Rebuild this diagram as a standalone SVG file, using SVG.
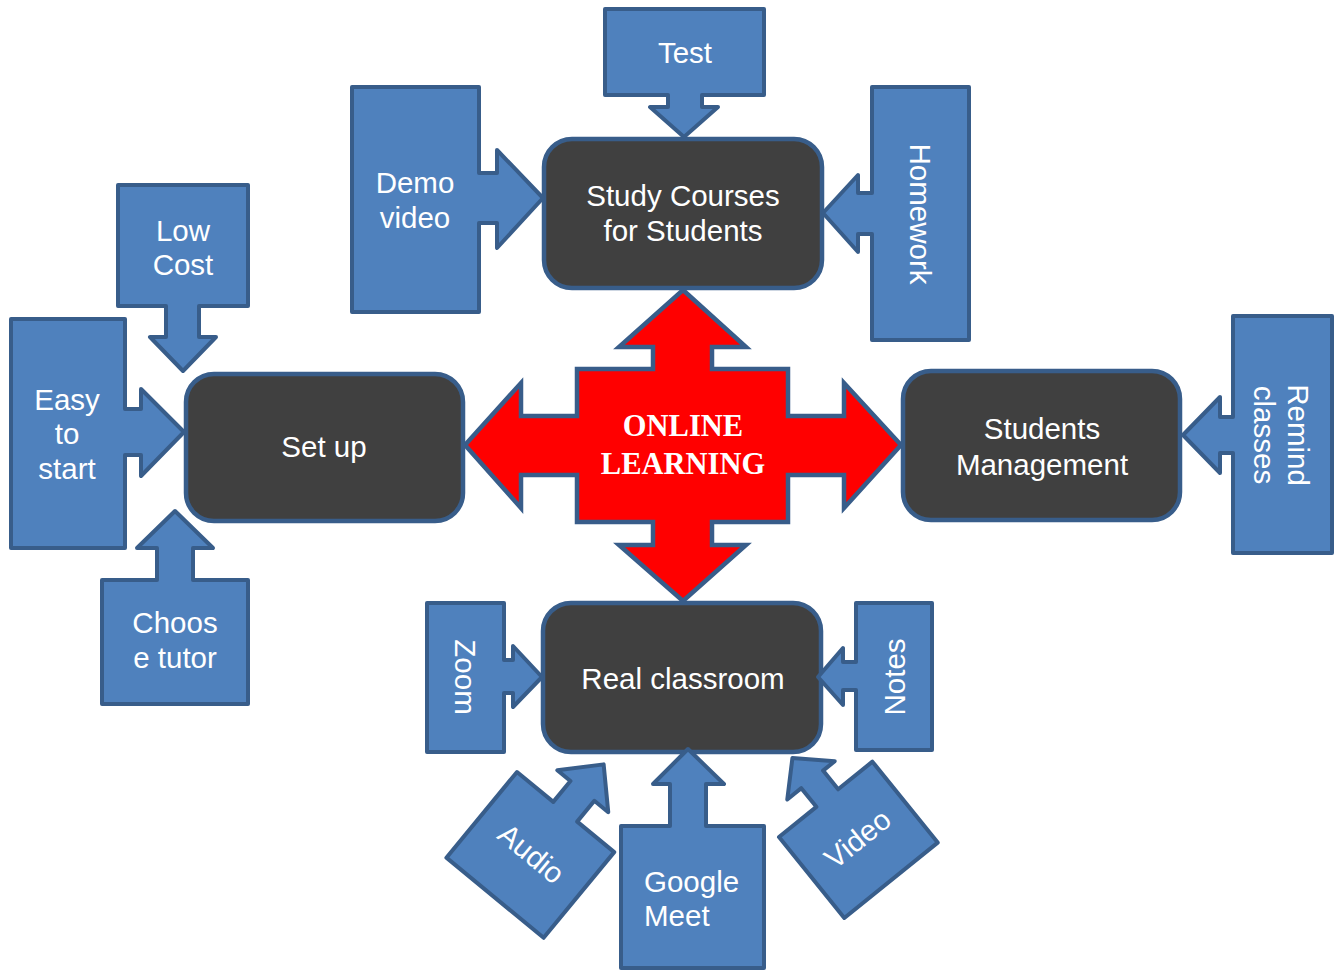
<svg xmlns="http://www.w3.org/2000/svg" width="1338" height="970" viewBox="0 0 1338 970">
<style>
.c{fill:#4f81bd;stroke:#385d8a;stroke-width:4;stroke-linejoin:round}
.b{fill:#404040;stroke:#385d8a;stroke-width:4.5}
.t{font-family:"Liberation Sans",Arial,sans-serif;font-size:29.5px;fill:#ffffff;text-anchor:middle}
.s{font-family:"Liberation Serif","Times New Roman",serif;font-size:30.5px;font-weight:bold;fill:#ffffff;text-anchor:middle}
</style>
<rect width="1338" height="970" fill="#ffffff"/>
<g id="connectors">
<path id="center-cross" d="M683,290 L746,347 H712 V369 H788 V416 H844 V383 L901,445 L844,508 V475 H788 V522 H712 V545 H746 L683,601 L619,545 H653 V522 H577 V475 H521 V508 L465,445 L521,383 V416 H577 V369 H653 V347 H619 Z" fill="#ff0000" stroke="#385d8a" stroke-width="4.5" stroke-linejoin="miter"/>
</g>
<g id="online-learning">
<text class="s" x="683" y="436">ONLINE</text>
<text class="s" x="683" y="474">LEARNING</text>
</g>
<g id="study-courses">
<rect class="b" x="544" y="139" width="278" height="149" rx="28"/>
<text class="t" x="683" y="206">Study Courses</text>
<text class="t" x="683" y="241">for Students</text>
</g>
<g id="test">
<path class="c" d="M605,9 H764 V95 H702 V107 H718 L684,137 L650,107 H668 V95 H605 Z"/>
<text class="t" x="685" y="63">Test</text>
</g>
<g id="demo-video">
<path class="c" d="M352,87 H479 V173 H497 V150 L543,198 L497,248 V223 H479 V312 H352 Z"/>
<text class="t" x="415" y="193">Demo</text>
<text class="t" x="415" y="228">video</text>
</g>
<g id="homework">
<path class="c" d="M872,87 H969 V340 H872 V234 H858 V252 L823,213 L858,175 V193 H872 Z"/>
<text class="t" transform="translate(920,214) rotate(90)" y="10">Homework</text>
</g>
<g id="set-up">
<rect class="b" x="186" y="374" width="277" height="147" rx="28"/>
<text class="t" x="324" y="457">Set up</text>
</g>
<g id="low-cost">
<path class="c" d="M118,185 H248 V306 H199 V337 H216 L183,371 L150,337 H166 V306 H118 Z"/>
<text class="t" x="183" y="241">Low</text>
<text class="t" x="183" y="275">Cost</text>
</g>
<g id="easy-to-start">
<path class="c" d="M11,319 H125 V409 H141 V389 L184,432 L141,476 V455 H125 V548 H11 Z"/>
<text class="t" x="67" y="410">Easy</text>
<text class="t" x="67" y="444">to</text>
<text class="t" x="67" y="479">start</text>
</g>
<g id="choose-tutor">
<path class="c" d="M102,580 H157 V548 H137 L175,511 L213,548 H193 V580 H248 V704 H102 Z"/>
<text class="t" x="175" y="633">Choos</text>
<text class="t" x="175" y="668">e tutor</text>
</g>
<g id="students-management">
<rect class="b" x="903" y="371" width="277" height="149" rx="28"/>
<text class="t" x="1042" y="439">Students</text>
<text class="t" x="1042" y="475">Management</text>
</g>
<g id="remind-classes">
<path class="c" d="M1233,316 H1332 V553 H1233 V453 H1220 V473 L1183,435 L1220,397 V417 H1233 Z"/>
<text class="t" transform="translate(1280,435) rotate(90)" y="-8">Remind</text>
<text class="t" transform="translate(1280,435) rotate(90)" y="26">classes</text>
</g>
<g id="real-classroom">
<rect class="b" x="543" y="603" width="278" height="149" rx="28"/>
<text class="t" x="683" y="689">Real classroom</text>
</g>
<g id="zoom">
<path class="c" d="M427,603 H504 V660 H513 V646 L542,677 L513,707 V693 H504 V752 H427 Z"/>
<text class="t" transform="translate(465,677) rotate(90)" y="10">Zoom</text>
</g>
<g id="notes">
<path class="c" d="M856,603 H932 V750 H856 V690 H843 V705 L818,677 L843,648 V662 H856 Z"/>
<text class="t" transform="translate(895,677) rotate(-90)" y="10">Notes</text>
</g>
<g id="google-meet">
<path class="c" d="M621,826 H670 V784 H653 L688,749 L724,784 H706 V826 H764 V968 H621 Z"/>
<text class="t" x="644" y="892" style="text-anchor:start">Google</text>
<text class="t" x="644" y="926" style="text-anchor:start">Meet</text>
</g>
<g id="audio" transform="translate(517,772) rotate(39.5)">
<path class="c" d="M0,0 H47 V-27 H30 L62,-61 L96,-27 H78 V0 H126 V111 H0 Z"/>
<text class="t" x="63" y="64">Audio</text>
</g>
<g id="video" transform="translate(779,837) rotate(-38.9)">
<path class="c" d="M0,0 H48 V-24 H30 L60,-53 L91,-24 H76 V0 H120 V104 H0 Z"/>
<text class="t" x="60" y="61">Video</text>
</g>
</svg>
